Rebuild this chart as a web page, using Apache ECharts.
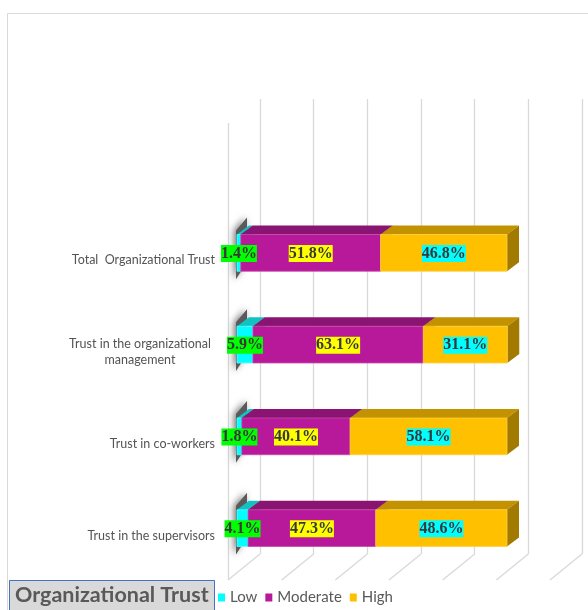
<!DOCTYPE html>
<html><head><meta charset="utf-8">
<script src="https://cdn.jsdelivr.net/npm/echarts@6/dist/echarts.min.js"></script>
<style>html,body{margin:0;padding:0;background:#fff}#c{width:588px;height:610px}</style>
</head><body><div id="c"></div>
<script>
const categories = ['Total  Organizational Trust', 'Trust in the organizational\nmanagement', 'Trust in co-workers', 'Trust in the supervisors'];
const seriesNames = ['Low', 'Moderate', 'High'];
const lowValues = [1.4, 5.9, 1.8, 4.1];
const moderateValues = [51.8, 63.1, 40.1, 47.3];
const highValues = [46.8, 31.1, 58.1, 48.6];
const wallTicks = [0, 20, 40, 60, 80, 100, 120];

const palette = [
  {front: '#00FFFF', top: '#12C2C2', side: '#0A9C9C', edge: '#5FFFFF', labelBg: '#00FF00'},
  {front: '#B8199A', top: '#8A1472', side: '#6E0F5B', edge: '#C44AAA', labelBg: '#FFFF00'},
  {front: '#FFC000', top: '#C29200', side: '#A27A00', edge: '#FFD040', labelBg: '#00FFFF'}
];

const valueSets = [lowValues, moderateValues, highValues];
const seriesData = valueSets.map((vals, si) => vals.map((v, ci) => {
  let start = 0;
  for (let k = 0; k < si; k++) start += valueSets[k][ci];
  return [start, start + v, ci, v];
}));

const DX = 12, DY = 9;

function makeRender(si) {
  const col = palette[si];
  return function (params, api) {
    const s = api.value(0), e = api.value(1), c = api.value(2), v = api.value(3);
    const a = api.coord([s, c]), b = api.coord([e, c]);
    const band = api.size([0, 1])[1];
    const h = band * 0.40;
    const yt = a[1] - h / 2, yb = a[1] + h / 2;
    const x0 = a[0], x1 = b[0];
    const children = [];
    if (si === 0) {
      children.push({type: 'polygon', z2: -5,
        shape: {points: [[x0 - 1, yt - 4], [x0 + DX - 2, yt - DY - 8], [x0 + DX - 2, yb - DY], [x0 - 1, yb + 8]]},
        style: {fill: '#5a5a5a', shadowBlur: 7, shadowColor: 'rgba(0,0,0,0.55)', shadowOffsetX: -2}});
    }
    children.push({type: 'polygon', shape: {points: [[x0, yt], [x1, yt], [x1 + DX, yt - DY], [x0 + DX, yt - DY]]},
      style: {fill: col.top}});
    children.push({type: 'polygon', shape: {points: [[x1, yt], [x1 + DX, yt - DY], [x1 + DX, yb - DY], [x1, yb]]},
      style: {fill: col.side}});
    children.push({type: 'rect', shape: {x: x0, y: yt, width: x1 - x0, height: h},
      style: {fill: col.front, stroke: col.edge, lineWidth: 0.8}});
    children.push({type: 'text', z2: 100, x: (x0 + x1) / 2, y: a[1] + 0.5,
      style: {text: v.toFixed(1) + '%', align: 'center', verticalAlign: 'middle',
        font: 'bold 16px "Liberation Serif", "Times New Roman", serif', fill: '#383838',
        backgroundColor: col.labelBg, padding: [1, 0, 0, 0]}});
    return {type: 'group', children};
  };
}

const chart = echarts.init(document.getElementById('c'), null, {renderer: 'canvas'});
chart.setOption({
  animation: false,
  backgroundColor: '#ffffff',
  title: {
    text: 'Organizational Trust', left: 9, top: 580,
    backgroundColor: '#d9d9d9', borderColor: '#4472c4', borderWidth: 1,
    padding: [4, 6, 10, 6],
    textStyle: {fontFamily: 'Lato', fontSize: 21.5, fontWeight: 'bold', color: '#595959'}
  },
  legend: {
    data: seriesNames, left: 213, top: 585, icon: 'rect', itemWidth: 7, itemHeight: 8, itemGap: 8,
    textStyle: {fontFamily: 'Lato', fontSize: 15, color: '#595959'}
  },
  graphic: [
    {type: 'rect', shape: {x: 7.5, y: 13.5, width: 620, height: 640}, style: {fill: 'none', stroke: '#d9d9d9', lineWidth: 1}, z: -10},
    {type: 'line', shape: {x1: 228.5, y1: 123, x2: 228.5, y2: 580}, style: {stroke: '#d9d9d9', lineWidth: 1.3}, z: -5}
  ],
  grid: [
    {left: 260, top: 99, width: 322, height: 455},
    {left: 237, top: 207, width: 270, height: 367}
  ],
  xAxis: [
    {gridIndex: 0, type: 'value', min: 0, max: 120, interval: 20,
      axisLine: {show: false}, axisTick: {show: false}, axisLabel: {show: false},
      splitLine: {show: true, lineStyle: {color: '#d9d9d9', width: 1.3}}},
    {gridIndex: 1, type: 'value', min: 0, max: 100, show: false}
  ],
  yAxis: [
    {gridIndex: 0, type: 'value', min: 0, max: 1, show: false},
    {gridIndex: 1, type: 'category', data: categories, inverse: true,
      axisLine: {show: false}, axisTick: {show: false}, splitLine: {show: false},
      axisLabel: {margin: 22, color: '#545454', fontFamily: 'Lato', fontSize: 12.5, padding: [15, 0, 0, 0],
        formatter: function (v) {
          return v.indexOf('\n') >= 0 ? v.split('\n').map(s => '{m|' + s + '}').join('\n') : v;
        },
        rich: {m: {width: 150, align: 'center', fontFamily: 'Lato', fontSize: 12.5, color: '#545454', lineHeight: 16}}
      }}
  ],
  series: [
    {type: 'custom', name: '_floor', xAxisIndex: 0, yAxisIndex: 0, silent: true, z: 1,
      data: wallTicks.map(t => [t, 0]),
      renderItem: function (params, api) {
        const p = api.coord([api.value(0), api.value(1)]);
        return {type: 'line', shape: {x1: p[0], y1: p[1], x2: p[0] - 32, y2: p[1] + 26},
          style: {stroke: '#d9d9d9', lineWidth: 1.3}};
      }}
  ].concat(seriesNames.map((n, si) => ({
    type: 'custom', name: n, xAxisIndex: 1, yAxisIndex: 1, z: 3,
    itemStyle: {color: palette[si].front},
    encode: {x: [0, 1], y: 2},
    data: seriesData[si],
    renderItem: makeRender(si)
  })))
});
</script>
</body></html>
